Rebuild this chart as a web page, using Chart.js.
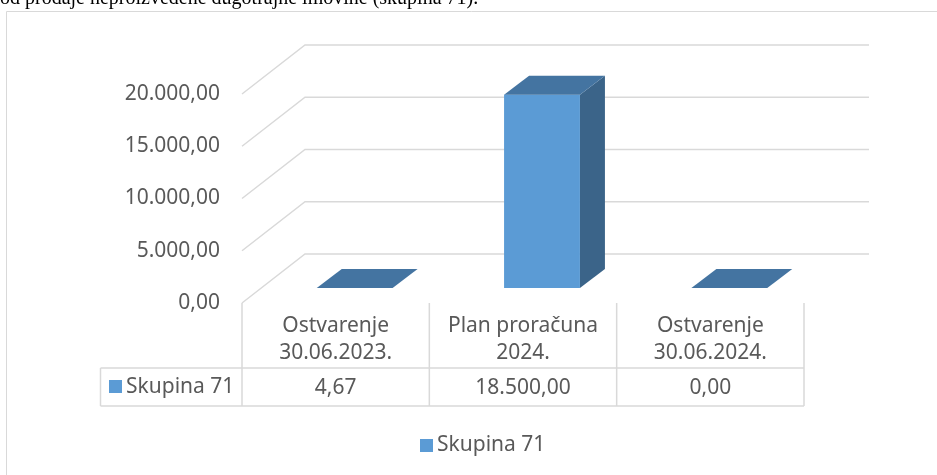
<!DOCTYPE html>
<html>
<head>
<meta charset="utf-8">
<script src="https://cdn.jsdelivr.net/npm/chart.js@4.4.1/dist/chart.umd.min.js"></script>
<style>
  html, body { margin: 0; padding: 0; background: #fff; overflow: hidden; }
  #wrap { position: absolute; left: 0; top: 0; width: 937px; height: 475px; }
  #cap {
    position: absolute; left: 0; top: -13px; z-index: 2; white-space: nowrap;
    font-family: 'Liberation Serif', serif; font-size: 20px; line-height: 20px; color: #000;
  }
</style>
</head>
<body>
<div id="cap">od prodaje neproizvedene dugotrajne imovine (skupina 71).</div>
<div id="wrap"><canvas id="chart"></canvas></div>
<script>
// podaci
const categories = [
    ['Ostvarenje', '30.06.2023.'],
    ['Plan proračuna', '2024.'],
    ['Ostvarenje', '30.06.2024.']
];
const seriesName = 'Skupina 71';
const seriesValues = [4.67, 18500, 0];
const yMax = 20000;
const yStep = 5000;

const textColor = '#595959';
const lineColor = '#d9d9d9';
const fontFamily = "'Noto Sans', sans-serif";

// 20000 -> "20.000,00"
function fmt(v) {
    const parts = Number(v).toFixed(2).split('.');
    return parts[0].replace(/\B(?=(\d{3})+(?!\d))/g, '.') + ',' + parts[1];
}

// 3D izgled, tablica i legenda
const threeD = {
    id: 'threeD',
    beforeDatasetsDraw(chart) {
        const { ctx, chartArea: a, scales: { y } } = chart;
        ctx.save();
        // okvir
        ctx.strokeStyle = lineColor;
        ctx.lineWidth = 1;
        ctx.beginPath();
        ctx.moveTo(6.5, 475);
        ctx.lineTo(6.5, 11.5);
        ctx.lineTo(937, 11.5);
        ctx.stroke();
        // zidovi s mrežom
        ctx.lineWidth = 1.5;
        y.ticks.forEach(t => {
            const py = y.getPixelForValue(t.value);
            ctx.beginPath();
            ctx.moveTo(a.left, py);
            ctx.lineTo(a.left + 63, py - 49);
            ctx.lineTo(a.right + 65, py - 49);
            ctx.stroke();
        });
        ctx.restore();
    },
    afterDatasetsDraw(chart) {
        const { ctx, chartArea: a, scales: { x } } = chart;
        const meta = chart.getDatasetMeta(0);
        ctx.save();

        // stupci
        const ox = 19, oy = -15, dx = 25, dy = -19;
        meta.data.forEach(bar => {
            const l = bar.x - bar.width / 2 + ox;
            const r = bar.x + bar.width / 2 + ox;
            const t = bar.y + oy;
            const b = bar.base + oy;
            // strana
            ctx.fillStyle = '#3b6489';
            ctx.beginPath();
            ctx.moveTo(r, b); ctx.lineTo(r + dx, b + dy); ctx.lineTo(r + dx, t + dy); ctx.lineTo(r, t);
            ctx.closePath(); ctx.fill();
            // prednja strana
            ctx.fillStyle = '#5b9bd5';
            ctx.fillRect(l, t, r - l, b - t);
            // vrh
            ctx.fillStyle = '#4474a1';
            ctx.beginPath();
            ctx.moveTo(l, t); ctx.lineTo(r, t); ctx.lineTo(r + dx, t + dy); ctx.lineTo(l + dx, t + dy);
            ctx.closePath(); ctx.fill();
        });

        // tablica
        const top = a.bottom;
        const rowLine = top + 65;
        const bottom = top + 103;
        const rowLeft = 100.5;
        ctx.strokeStyle = lineColor;
        ctx.lineWidth = 1.5;
        ctx.beginPath();
        const edges = [a.left];
        categories.forEach((c, i) => edges.push(x.getPixelForValue(i) + (x.getPixelForValue(1) - x.getPixelForValue(0)) / 2));
        edges.forEach(ex => { ctx.moveTo(ex, top); ctx.lineTo(ex, bottom); });
        ctx.moveTo(rowLeft, rowLine); ctx.lineTo(edges[edges.length - 1], rowLine);
        ctx.moveTo(rowLeft, bottom); ctx.lineTo(edges[edges.length - 1], bottom);
        ctx.moveTo(rowLeft, rowLine); ctx.lineTo(rowLeft, bottom);
        ctx.stroke();

        ctx.fillStyle = textColor;
        ctx.font = '21px ' + fontFamily;
        ctx.textAlign = 'center';
        ctx.textBaseline = 'middle';
        categories.forEach((c, i) => {
            const cx = x.getPixelForValue(i);
            ctx.fillText(c[0], cx, top + 23);
            ctx.fillText(c[1], cx, top + 50);
            ctx.fillText(fmt(seriesValues[i]), cx, top + 85);
        });
        ctx.textAlign = 'left';
        ctx.fillStyle = '#5b9bd5';
        ctx.fillRect(109, top + 77, 13, 13);
        ctx.fillStyle = textColor;
        ctx.fillText(seriesName, 126, top + 84);

        // legenda
        ctx.fillStyle = '#5b9bd5';
        ctx.fillRect(420, 439, 13, 13);
        ctx.fillStyle = textColor;
        ctx.fillText(seriesName, 437, 445);

        ctx.restore();
    }
};

const chart = new Chart(document.getElementById('chart'), {
    type: 'bar',
    data: {
        labels: categories,
        datasets: [{
            label: seriesName,
            data: seriesValues,
            backgroundColor: 'rgba(0,0,0,0)',
            borderWidth: 0,
            categoryPercentage: 1,
            barPercentage: 0.405
        }]
    },
    options: {
        responsive: true,
        maintainAspectRatio: false,
        animation: false,
        layout: { padding: { left: 0, right: 133, top: 94, bottom: 172 } },
        plugins: {
            legend: { display: false },
            tooltip: { enabled: false }
        },
        scales: {
            x: { display: false },
            y: {
                min: 0,
                max: yMax,
                grid: { display: false },
                border: { display: false },
                ticks: {
                    stepSize: yStep,
                    padding: 14,
                    color: textColor,
                    font: { family: fontFamily, size: 21 },
                    callback: v => fmt(v)
                },
                afterFit(scale) { scale.width = 242; }
            }
        }
    },
    plugins: [threeD]
});
</script>
</body>
</html>
